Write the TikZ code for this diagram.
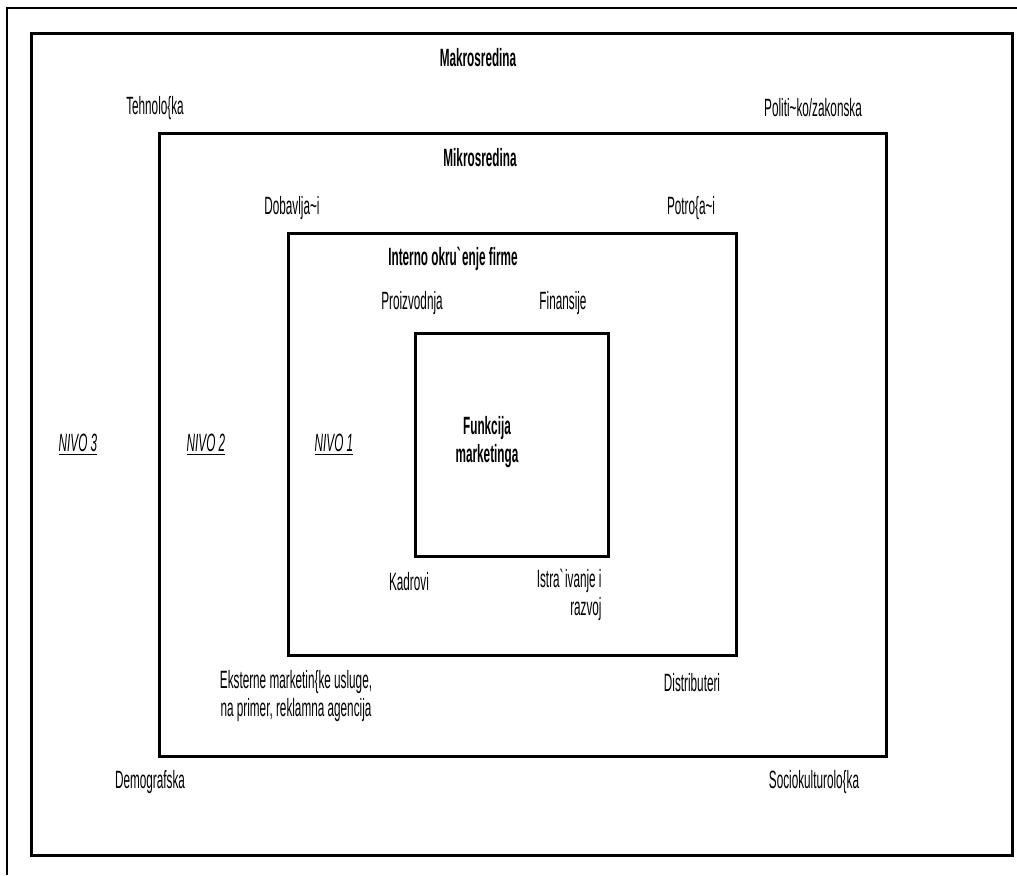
\documentclass[tikz,border=0pt]{standalone}
\usepackage{fontspec}
\setmainfont{Liberation Sans}[FakeStretch=0.47]
\begin{document}
\begin{tikzpicture}[x=0.5pt, y=-0.5pt,
    okvir/.style={line width=1.5pt},
    lbl/.style={inner sep=0pt, font=\fontsize{12.5}{14}\selectfont},
    naslov/.style={lbl, font=\fontsize{12.5}{14}\selectfont\bfseries},
    nivo/.style={lbl, font=\fontsize{12.5}{14}\selectfont\itshape}]
    \useasboundingbox (0,0) rectangle (1017,875);

    % Rand
    \coordinate (R1) at (7,875);
    \coordinate (R2) at (7,8);
    \coordinate (R3) at (1017,8);
    \draw[line width=1pt] (R1) -- (R2) -- (R3);

    % Okviri
    \coordinate (MA1) at (31,33);  \coordinate (MA2) at (1012,855);
    \coordinate (MI1) at (159,133); \coordinate (MI2) at (886,756);
    \coordinate (IN1) at (288,233); \coordinate (IN2) at (736,655);
    \coordinate (FU1) at (415,333); \coordinate (FU2) at (608,556);
    \draw[okvir] (MA1) rectangle (MA2);
    \draw[okvir] (MI1) rectangle (MI2);
    \draw[okvir] (IN1) rectangle (IN2);
    \draw[okvir] (FU1) rectangle (FU2);

    % Makrosredina
    \node[naslov] (makro) at (478,58) {Makrosredina};
    \node[lbl] (tehno) at (155,108) {Tehnolo\{ka};
    \node[lbl] (polit) at (813,108) {Politi\textasciitilde ko/zakonska};
    \node[lbl] (demo) at (150,782) {Demografska};
    \node[lbl] (socio) at (814,782) {Sociokulturolo\{ka};

    % Mikrosredina
    \node[naslov] (mikro) at (480,158) {Mikrosredina};
    \node[lbl] (dobav) at (292,208) {Dobavlja\textasciitilde i};
    \node[lbl] (potro) at (691,208) {Potro\{a\textasciitilde i};
    \node[lbl, align=center] (ekst) at (296,696)
        {Eksterne marketin\{ke usluge,\\ na primer, reklamna agencija};
    \node[lbl] (distr) at (692,683) {Distributeri};

    % Interno okruzenje
    \node[naslov] (intern) at (453,259) {Interno okru\textasciigrave\kern-.12em enje firme};
    \node[lbl] (proiz) at (412,303) {Proizvodnja};
    \node[lbl] (finan) at (563,303) {Finansije};
    \node[lbl] (kadr) at (409,582) {Kadrovi};
    \node[lbl, align=right, anchor=east] (istr) at (602,595)
        {Istra\textasciigrave\kern-.12em ivanje i\\ razvoj};

    % Funkcija
    \node[naslov, align=center] (funk) at (487,442) {Funkcija\\ marketinga};

    % Nivoi
    \node[nivo] (nivo3) at (78,445) {\underline{NIVO 3}};
    \node[nivo] (nivo2) at (206,445) {\underline{NIVO 2}};
    \node[nivo] (nivo1) at (334,445) {\underline{NIVO 1}};
\end{tikzpicture}
\end{document}
